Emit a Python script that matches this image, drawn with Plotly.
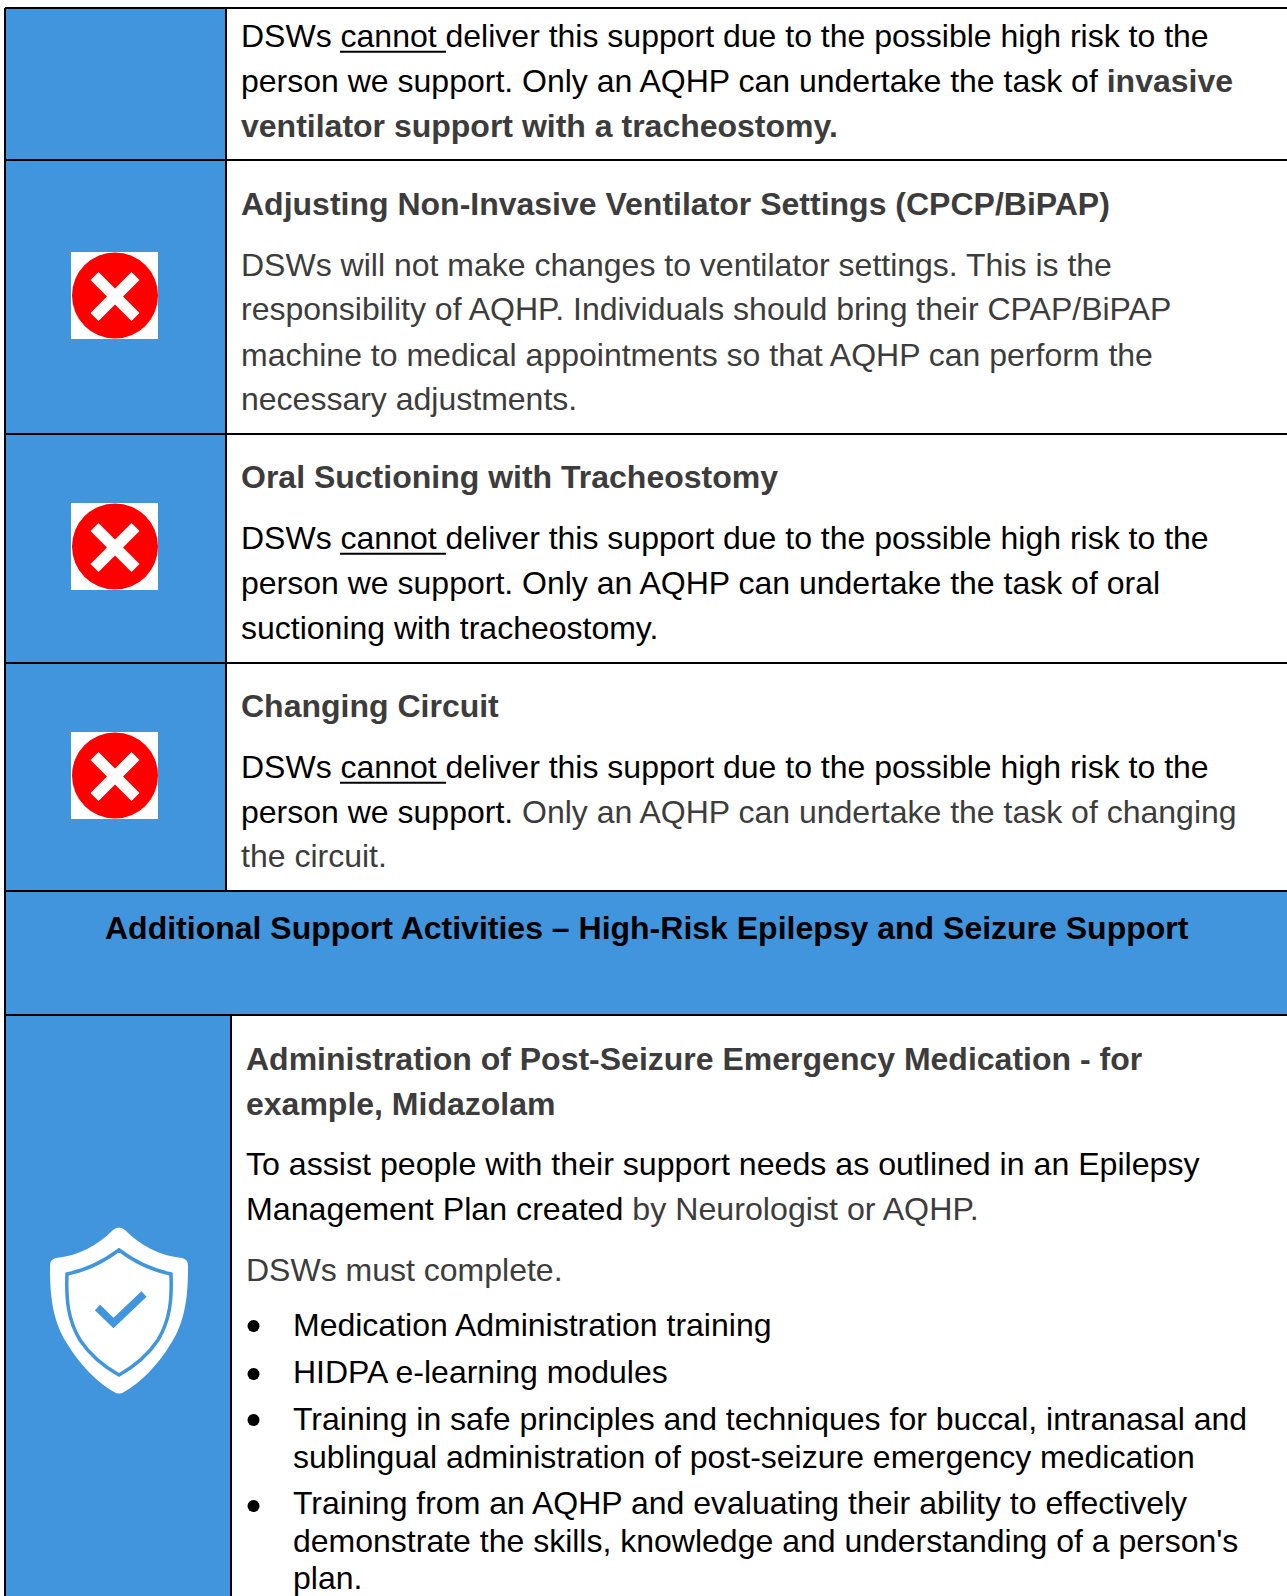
import plotly.graph_objects as go

W, H = 1287, 1596
BLUE = "#4095DD"
GREY = "#3C3C3C"
BLACK = "#000000"
FONT = "Liberation Sans, Arial, sans-serif"
SIZE = 32

def grey(s): return f'<span style="color:{GREY}">{s}</span>'

left_lines = [
    "DSWs cannot deliver this support due to the possible high risk to the",
    "person we support. Only an AQHP can undertake the task of <b>" + grey("invasive") + "</b>",
    "<b>" + grey("ventilator support with a tracheostomy.") + "</b>",
    "<b>" + grey("Adjusting Non-Invasive Ventilator Settings (CPCP/BiPAP)") + "</b>",
    grey("DSWs will not make changes to ventilator settings. This is the"),
    grey("responsibility of AQHP. Individuals should bring their CPAP/BiPAP"),
    grey("machine to medical appointments so that AQHP can perform the"),
    grey("necessary adjustments."),
    "<b>" + grey("Oral Suctioning with Tracheostomy") + "</b>",
    "DSWs cannot deliver this support due to the possible high risk to the",
    "person we support. Only an AQHP can undertake the task of oral",
    "suctioning with tracheostomy.",
    "<b>" + grey("Changing Circuit") + "</b>",
    "DSWs cannot deliver this support due to the possible high risk to the",
    "person we support. " + grey("Only an AQHP can undertake the task of changing"),
    grey("the circuit."),
]
left_y = [35.6, 81, 126, 203.6, 264.7, 308.5, 355, 399, 476.5, 537.6, 583, 628,
          705.6, 766.7, 811.5, 856]

header = "<b>Additional Support Activities – High-Risk Epilepsy and Seizure Support</b>"
header_y = 927.6

right_lines = [
    "<b>" + grey("Administration of Post-Seizure Emergency Medication - for") + "</b>",
    "<b>" + grey("example, Midazolam") + "</b>",
    "To assist people with their support needs as outlined in an Epilepsy",
    "Management Plan created " + grey("by Neurologist or AQHP."),
    grey("DSWs must complete."),
]
right_y = [1059, 1103.7, 1164, 1208.5, 1269.6]
right_sizes = [32, 32, 32.14, 32.18, 32]

bullet_lines = [
    "Medication Administration training",
    "HIDPA e-learning modules",
    "Training in safe principles and techniques for buccal, intranasal and",
    "sublingual administration of post-seizure emergency medication",
    "Training from an AQHP and evaluating their ability to effectively",
    "demonstrate the skills, knowledge and understanding of a person's",
    "plan.",
]
bullet_y = [1324.7, 1371.5, 1419, 1457, 1503, 1540.5, 1578]
bullet_dots = [1326, 1374, 1420, 1506]

row_lines = [8, 160, 434, 663, 891, 1015]
icon_tops = [252, 503, 732]
underlines = [51.7, 553.7, 782.7]

shapes = []
def rect(x0, y0, x1, y1, fill):
    shapes.append(dict(type="rect", x0=x0, y0=y0, x1=x1, y1=y1, fillcolor=fill,
                       line=dict(width=0), layer="below"))
def hline(x0, x1, y, w=2, c=BLACK):
    shapes.append(dict(type="line", x0=x0, x1=x1, y0=y, y1=y, line=dict(color=c, width=w)))
def vline(x, y0, y1, w=2):
    shapes.append(dict(type="line", x0=x, x1=x, y0=y0, y1=y1, line=dict(color=BLACK, width=w)))

rect(5, 8, 226, 891, BLUE)
rect(5, 891, W, 1015, BLUE)
rect(5, 1015, 231, H, BLUE)
for y in row_lines:
    hline(5, W, y)
vline(5, 8, H)
vline(226, 8, 891)
vline(231, 1015, H)
for y in underlines:
    hline(340, 446, y)

for top in icon_tops:
    shapes.append(dict(type="rect", x0=71, x1=158, y0=top, y1=top + 87,
                       fillcolor="white", line=dict(width=0)))
    cx, cy = 115, top + 43.5
    shapes.append(dict(type="circle", x0=cx - 43, x1=cx + 43, y0=cy - 43, y1=cy + 43,
                       fillcolor="#FF0000", line=dict(width=0)))
    pts = [(-24.5, -16.5), (-16.5, -24.5), (0, -8), (16.5, -24.5), (24.5, -16.5), (8, 0),
           (24.5, 16.5), (16.5, 24.5), (0, 8), (-16.5, 24.5), (-24.5, 16.5), (-8, 0)]
    p = "M " + " L ".join(f"{cx + a} {cy + b + 1}" for a, b in pts) + " Z"
    shapes.append(dict(type="path", path=p, fillcolor="white", line=dict(width=0)))

# shield
shapes.append(dict(type="path", fillcolor="white", line=dict(width=0),
    path="M 113 1230 Q 119 1225 125 1230 C 140 1245 160 1256 182 1258 Q 188 1259 188 1266 "
         "C 188 1290 187 1320 170 1345 C 158 1365 140 1383 124 1392 Q 119 1395 114 1392 "
         "C 98 1383 80 1365 68 1345 C 51 1320 50 1290 50 1266 Q 50 1259 56 1258 "
         "C 78 1256 98 1245 113 1230 Z"))
shapes.append(dict(type="path", fillcolor="white", line=dict(color=BLUE, width=3.5),
    path="M 119 1250 C 135 1262 150 1270 171 1274 C 172 1300 170 1320 158 1340 "
         "C 148 1355 135 1366 119 1375 C 103 1366 90 1355 80 1340 C 68 1320 66 1300 67 1274 "
         "C 88 1270 103 1262 119 1250 Z"))
shapes.append(dict(type="path", fillcolor="rgba(0,0,0,0)", line=dict(color=BLUE, width=7.5),
    path="M 97.5 1307.5 L 113.5 1323 L 144 1294"))

for y in bullet_dots:
    shapes.append(dict(type="circle", x0=247.5, x1=259.5, y0=y - 6, y1=y + 6,
                       fillcolor=BLACK, line=dict(width=0)))

annotations = []
def text(x, y, s, anchor="left", size=SIZE):
    annotations.append(dict(x=x, y=y, text=s, xref="x", yref="y", xanchor=anchor, yanchor="middle",
                            showarrow=False, align=anchor, borderpad=0, borderwidth=0,
                            font=dict(family=FONT, size=size, color=BLACK)))
for s, y in zip(left_lines, left_y):
    text(240.5, y, s)
text(646.5, header_y, header, "center")
for s, y, z in zip(right_lines, right_y, right_sizes):
    text(246, y, s, size=z)
for s, y in zip(bullet_lines, bullet_y):
    text(293, y, s)

fig = go.Figure()
fig.update_layout(
    width=W, height=H, margin=dict(l=0, r=0, t=0, b=0, pad=0),
    paper_bgcolor="white", plot_bgcolor="white", showlegend=False,
    xaxis=dict(range=[0, W], visible=False, fixedrange=True),
    yaxis=dict(range=[H, 0], visible=False, fixedrange=True),
    shapes=shapes, annotations=annotations,
)
fig.write_html("out.html", config=dict(displayModeBar=False),
               post_script="document.body.style.margin='0';document.body.style.overflow='hidden';")
